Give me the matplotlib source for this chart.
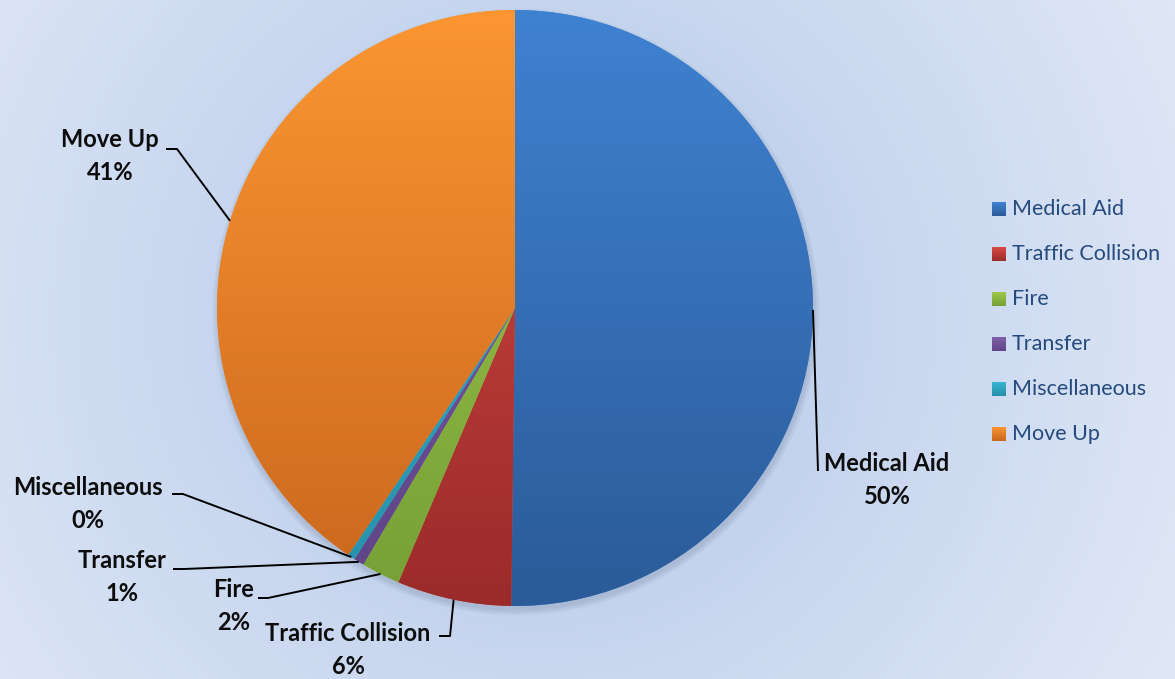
import matplotlib
matplotlib.use("Agg")
import matplotlib.pyplot as plt
import numpy as np
from matplotlib.colors import to_rgb, LinearSegmentedColormap
from matplotlib.patches import Circle

categories = ["Medical Aid", "Traffic Collision", "Fire", "Transfer", "Miscellaneous", "Move Up"]
values = [50.2, 6.2, 2.1, 0.55, 0.4, 40.55]

# gradient colours per slice (top, bottom)
top_colors = ["#3f82d2", "#d84a45", "#9fc84c", "#8060aa", "#38b4d2", "#fb9632"]
bot_colors = ["#2b5b98", "#9a2b2a", "#76a036", "#5e4386", "#2690aa", "#c9661d"]

W, H = 1175, 679
cx, cy, r = 515, H - 308, 298

# label layout in pixel coords (x, y from top): text centre, elbow, line end
label_pos = [(887, 480), (348, 650), (234, 606), (122, 577), (88, 504), (110, 156)]
elbows = [(818, 471), (450, 636), (268, 598), (184, 569), (183, 494), (177, 149)]
ends = [(818, 471), (439, 636), (258, 598), (173, 569), (172, 494), (166, 149)]

fig = plt.figure(figsize=(W / 100, H / 100), dpi=100)
ax = fig.add_axes([0, 0, 1, 1])

# radial background
yy, xx = np.mgrid[0:H, 0:W]
d = np.hypot(xx - 540, yy - 320)
t = np.clip(d / 720, 0, 1)
c0, c1 = np.array(to_rgb("#b2c6e8")), np.array(to_rgb("#e0e8f6"))
bg = c0 + (c1 - c0) * t[..., None]
ax.imshow(bg, extent=(0, W, 0, H), origin="upper", aspect="auto", zorder=0)

# soft shadow
for k in range(8):
    ax.add_patch(Circle((cx + 1, cy - 4), r + k * 0.8, color="#6a7a95",
                        alpha=0.035, lw=0, zorder=1))

wedges, _ = ax.pie(values, startangle=90, counterclock=False, center=(cx, cy),
                   radius=r, colors=top_colors, frame=True,
                   wedgeprops=dict(linewidth=0, zorder=2))
ax.set_xlim(0, W)
ax.set_ylim(0, H)
ax.set_aspect("auto")
ax.axis("off")

grad = np.linspace(0, 1, 256)[:, None]
for w, ct, cb in zip(wedges, top_colors, bot_colors):
    w.set_zorder(2)
    cmap = LinearSegmentedColormap.from_list("g", [ct, cb])
    im = ax.imshow(grad, cmap=cmap, extent=(cx - r, cx + r, cy - r, cy + r),
                   origin="upper", aspect="auto", zorder=3, interpolation="bilinear")
    im.set_clip_path(w)

total = sum(values)
for w, cat, v, lp, el, en in zip(wedges, categories, values, label_pos, elbows, ends):
    mid = np.deg2rad((w.theta1 + w.theta2) / 2)
    ex, ey = cx + r * np.cos(mid), cy + r * np.sin(mid)
    ax.plot([ex, el[0], en[0]], [ey, H - el[1], H - en[1]], color="black",
            lw=1.4, zorder=4, solid_capstyle="butt")
    ax.text(lp[0], H - lp[1], f"{cat}\n{v / total * 100:.0f}%", ha="center",
            va="center", multialignment="center", fontsize=17, fontweight="bold",
            family="Lato", color="#0d0d0d", linespacing=1.55, zorder=5)

# legend
for i, (cat, ct, cb) in enumerate(zip(categories, top_colors, bot_colors)):
    ly = H - (209 + 45 * i)
    cmap = LinearSegmentedColormap.from_list("lg", [ct, cb])
    ax.imshow(grad, cmap=cmap, extent=(992, 1006, ly - 7, ly + 7), origin="upper",
              aspect="auto", zorder=5, interpolation="bilinear")
    ax.text(1012, ly, cat, ha="left", va="center", fontsize=15.5, family="Lato",
            color="#254a7d", zorder=5)

ax.set_xlim(0, W)
ax.set_ylim(0, H)
fig.savefig("out.png", dpi=100)
